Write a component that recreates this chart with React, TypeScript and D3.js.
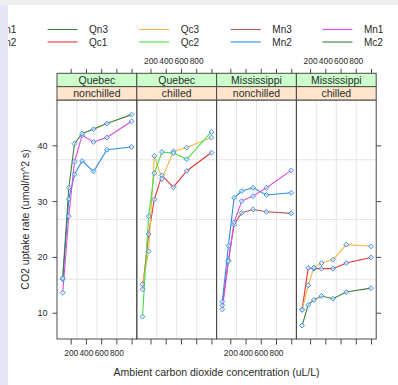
import { useRef, useEffect } from 'react';
import * as d3 from 'd3';

// ambient CO2 concentrations (uL/L), same for every plant
const concentrations = [95, 175, 250, 350, 500, 675, 1000];

// CO2 uptake per plant (umol/m^2 s)
const Qn1 = [16.0, 30.4, 34.8, 37.2, 35.3, 39.2, 39.7];
const Qn2 = [13.6, 27.3, 37.1, 41.8, 40.6, 41.4, 44.3];
const Qn3 = [16.2, 32.4, 40.3, 42.1, 42.9, 43.9, 45.5];
const Qc1 = [14.2, 24.1, 30.3, 34.6, 32.5, 35.4, 38.7];
const Qc3 = [15.1, 21.0, 38.1, 34.0, 38.9, 39.6, 41.4];
const Qc2 = [9.3, 27.3, 35.0, 38.8, 38.6, 37.5, 42.4];
const Mn3 = [11.3, 19.4, 25.8, 27.9, 28.5, 28.1, 27.8];
const Mn2 = [12.0, 22.0, 30.6, 31.8, 32.4, 31.1, 31.5];
const Mn1 = [10.6, 19.2, 26.2, 30.0, 30.9, 32.4, 35.5];
const Mc2 = [7.7, 11.4, 12.3, 13.0, 12.5, 13.7, 14.4];
const Mc3 = [10.6, 18.0, 17.9, 17.9, 17.9, 18.9, 19.9];
const Mc1 = [10.5, 14.9, 18.1, 18.9, 19.5, 22.2, 21.9];

const plants = ['Qn1', 'Qn2', 'Qn3', 'Qc1', 'Qc3', 'Qc2', 'Mn3', 'Mn2', 'Mn1', 'Mc2', 'Mc3', 'Mc1'];
const uptakes = [Qn1, Qn2, Qn3, Qc1, Qc3, Qc2, Mn3, Mn2, Mn1, Mc2, Mc3, Mc1];
const plantTypes = ['Quebec', 'Quebec', 'Quebec', 'Quebec', 'Quebec', 'Quebec',
  'Mississippi', 'Mississippi', 'Mississippi', 'Mississippi', 'Mississippi', 'Mississippi'];
const plantTreatments = ['nonchilled', 'nonchilled', 'nonchilled', 'chilled', 'chilled', 'chilled',
  'nonchilled', 'nonchilled', 'nonchilled', 'chilled', 'chilled', 'chilled'];

const panelTypes = ['Quebec', 'Quebec', 'Mississippi', 'Mississippi'];
const panelTreatments = ['nonchilled', 'chilled', 'nonchilled', 'chilled'];

const xTicks = [200, 400, 600, 800, 1000];
const xTickLabels = ['200', '400', '600', '800', ''];
const yTicks = [10, 20, 30, 40];

// lattice superpose.line palette, a bit softened like the screenshot
const palette = ['#2b8be6', '#e048e0', '#3f7f3f', '#e83535', '#f2b740', '#45e045', '#b05a5a'];

function App() {
  const svgRef = useRef<SVGSVGElement>(null);
  const width = 398;
  const height = 385;

  useEffect(() => {
    const svg = d3.select(svgRef.current);
    svg.selectAll('*').remove();

    const font = '"Liberation Sans", Arial, sans-serif';
    const ink = '#2a2a2a';
    const frame = '#4a4a4a';

    const panelLeft = 57;
    const panelWidth = 79.8;
    const top = 100;
    const bottom = 339;
    const stripH = 13.35;

    svg.append('rect').attr('width', width).attr('height', height).attr('fill', '#fff');

    const y = d3.scaleLinear().domain([5.29, 48.12]).range([bottom, top]);

    const line = (x: d3.ScaleLinear<number, number>) =>
      d3
        .line<number>()
        .x((_, i) => x(concentrations[i]))
        .y((d) => y(d));

    const diamond = d3.symbol().type(d3.symbolSquare).size(12);

    panelTypes.forEach((type, p) => {
      const left = panelLeft + p * panelWidth;
      const x = d3.scaleLinear().domain([20, 1068]).range([left, left + panelWidth]);
      const g = svg.append('g');

      // grid (3 equally spaced lines each way)
      const [x0, x1] = x.domain();
      const [y0, y1] = y.domain();
      [0.25, 0.5, 0.75].forEach((f) => {
        g.append('line')
          .attr('x1', x(x0 + f * (x1 - x0))).attr('x2', x(x0 + f * (x1 - x0)))
          .attr('y1', top).attr('y2', bottom)
          .attr('stroke', '#e6e6e6');
        g.append('line')
          .attr('x1', left).attr('x2', left + panelWidth)
          .attr('y1', y(y1 - f * (y1 - y0))).attr('y2', y(y1 - f * (y1 - y0)))
          .attr('stroke', '#e6e6e6');
      });

      // series
      plants.forEach((name, k) => {
        if (plantTypes[k] !== type || plantTreatments[k] !== panelTreatments[p]) return;
        g.append('path')
          .datum(uptakes[k])
          .attr('fill', 'none')
          .attr('stroke', palette[k % palette.length])
          .attr('stroke-width', 1.1)
          .attr('d', line(x));
      });
      plants.forEach((name, k) => {
        if (plantTypes[k] !== type || plantTreatments[k] !== panelTreatments[p]) return;
        g.selectAll(null)
          .data(uptakes[k])
          .join('path')
          .attr('d', diamond)
          .attr('transform', (d, i) => `translate(${x(concentrations[i])},${y(d)}) rotate(45)`)
          .attr('fill', '#e4f0ff')
          .attr('fill-opacity', 0.6)
          .attr('stroke', '#3d8fe0')
          .attr('stroke-width', 0.9);
      });

      // panel frame
      g.append('rect')
        .attr('x', left).attr('y', top)
        .attr('width', panelWidth).attr('height', bottom - top)
        .attr('fill', 'none').attr('stroke', frame);

      // strips
      const strips = [
        { label: type, fill: '#ccffcc', y: top - 2 * stripH },
        { label: panelTreatments[p], fill: '#ffe5cc', y: top - stripH },
      ];
      strips.forEach((s) => {
        g.append('rect')
          .attr('x', left).attr('y', s.y)
          .attr('width', panelWidth).attr('height', stripH)
          .attr('fill', s.fill).attr('stroke', frame);
        g.append('text')
          .attr('x', left + panelWidth / 2)
          .attr('y', s.y + stripH / 2)
          .attr('dy', '0.36em')
          .attr('text-anchor', 'middle')
          .style('font', `10.5px ${font}`)
          .attr('fill', ink)
          .text(s.label);
      });

      // x axes, labels alternate bottom / top
      const bottomAxis = svg
        .append('g')
        .attr('transform', `translate(0,${bottom})`)
        .call(
          d3.axisBottom(x)
            .tickValues(xTicks)
            .tickSize(5.5)
            .tickPadding(5.5)
            .tickFormat((d, i) => (p % 2 === 0 ? xTickLabels[i] : ''))
        );
      const topAxis = svg
        .append('g')
        .attr('transform', `translate(0,${top - 2 * stripH})`)
        .call(
          d3.axisTop(x)
            .tickValues(xTicks)
            .tickSize(4.5)
            .tickPadding(4.5)
            .tickFormat((d, i) => (p % 2 === 1 ? xTickLabels[i] : ''))
        );
      [bottomAxis, topAxis].forEach((a) => {
        a.select('.domain').remove();
        a.selectAll('.tick line').attr('stroke', frame);
        a.selectAll('.tick text').attr('fill', ink).style('font', `8.4px ${font}`);
      });
    });

    // y axes: labelled on the left, ticks only on the right
    const leftAxis = svg
      .append('g')
      .attr('transform', `translate(${panelLeft},0)`)
      .call(d3.axisLeft(y).tickValues(yTicks).tickSize(4.5).tickPadding(5));
    const rightAxis = svg
      .append('g')
      .attr('transform', `translate(${panelLeft + 4 * panelWidth},0)`)
      .call(d3.axisRight(y).tickValues(yTicks).tickSize(5).tickFormat(() => ''));
    [leftAxis, rightAxis].forEach((a) => {
      a.select('.domain').remove();
      a.selectAll('.tick line').attr('stroke', frame);
      a.selectAll('.tick text').attr('fill', ink).style('font', `9px ${font}`);
    });

    // axis titles
    svg.append('text')
      .attr('x', panelLeft + 2 * panelWidth)
      .attr('y', 372)
      .attr('dy', '0.36em')
      .attr('text-anchor', 'middle')
      .style('font', `10.5px ${font}`)
      .attr('fill', ink)
      .text('Ambient carbon dioxide concentration (uL/L)');

    svg.append('text')
      .attr('transform', `translate(25,${(top + bottom) / 2}) rotate(-90)`)
      .attr('dy', '0.36em')
      .attr('text-anchor', 'middle')
      .style('font', `10.5px ${font}`)
      .attr('fill', ink)
      .text('CO2 uptake rate (umol/m^2 s)');

    // legend: 6 columns x 2 rows, filled column by column (cropped in the screenshot)
    const legendRows = [29.5, 42];
    plants.forEach((name, k) => {
      const col = Math.floor(k / 2);
      const row = k % 2;
      const lx = -44 + col * 91.6;
      const ly = legendRows[row];
      svg.append('line')
        .attr('x1', lx).attr('x2', lx + 30)
        .attr('y1', ly).attr('y2', ly)
        .attr('stroke', palette[k % palette.length])
        .attr('stroke-width', 1.1);
      svg.append('text')
        .attr('x', lx + 41.5)
        .attr('y', ly)
        .attr('dy', '0.36em')
        .style('font', `10px ${font}`)
        .attr('fill', ink)
        .text(name);
    });

    // window chrome of the screenshot, on top
    svg.append('rect').attr('width', width).attr('height', 5).attr('fill', '#efefef');
    svg.append('rect').attr('y', 5).attr('width', 8).attr('height', height - 5).attr('fill', '#e6e6f6');
  }, []);

  return (
    <svg
      ref={svgRef}
      width={width}
      height={height}
      style={{ position: 'fixed', left: 0, top: 0, display: 'block' }}
    />
  );
}

export default App;
